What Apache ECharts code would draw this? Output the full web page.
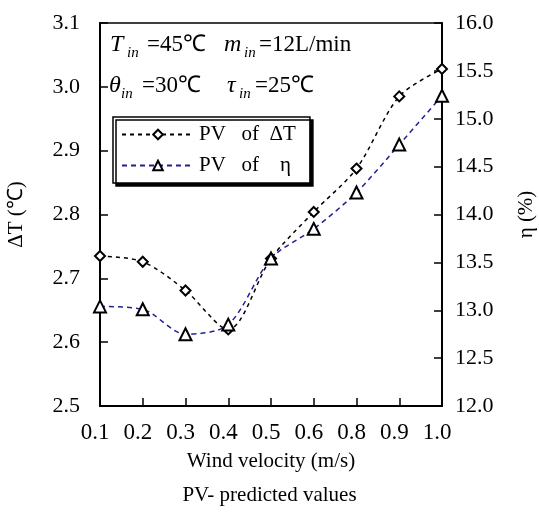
<!DOCTYPE html>
<html><head><meta charset="utf-8">
<script src="https://cdn.jsdelivr.net/npm/echarts@6/dist/echarts.min.js"></script>
<style>html,body{margin:0;padding:0;background:#fff}#c{width:539px;height:512px}</style>
</head><body><div id="c"></div>
<script>
var categories = ['0.1','0.2','0.3','0.4','0.5','0.6','0.8','0.9','1.0'];
var deltaT = [2.735, 2.726, 2.681, 2.620, 2.731, 2.804, 2.872, 2.985, 3.028];
var eta = [13.04, 13.01, 12.75, 12.85, 13.54, 13.85, 14.23, 14.73, 15.24];
var leftTicks = {min: 2.5, max: 3.1, interval: 0.1};
var rightTicks = {min: 12.0, max: 16.0, interval: 0.5};
var seriesNames = ['PV   of  ΔT', 'PV   of    η'];

var F = 'Liberation Serif';
var chart = echarts.init(document.getElementById('c'), null, {renderer: 'canvas'});

function txt(x, y, s, size, italic) {
  return {type: 'text', x: x, y: y, silent: true,
    style: {text: s, fontFamily: F, fontSize: size, fontStyle: italic ? 'italic' : 'normal',
      fill: '#000', verticalAlign: 'middle', align: 'left'}};
}

chart.setOption({
  animation: false,
  backgroundColor: '#fff',
  grid: {left: 100, right: 97, top: 23, bottom: 106, outerBoundsMode: 'none', containLabel: false,
    show: true, borderColor: '#000', borderWidth: 1.5, backgroundColor: 'transparent'},
  legend: {
    left: 113, top: 117, orient: 'vertical',
    padding: [7, 14, 7, 8], itemGap: 10,
    itemWidth: 72, itemHeight: 12,
    backgroundColor: '#fff', borderColor: '#000', borderWidth: 1.5,
    shadowColor: '#000', shadowBlur: 0, shadowOffsetX: 3, shadowOffsetY: 3,
    textStyle: {fontFamily: F, fontSize: 21, color: '#000'},
    data: seriesNames
  },
  xAxis: {
    type: 'category', data: categories, boundaryGap: false,
    name: 'Wind velocity (m/s)', nameLocation: 'middle', nameGap: 45,
    nameTextStyle: {fontFamily: F, fontSize: 21, color: '#000'},
    axisLine: {lineStyle: {color: '#000', width: 2}},
    axisTick: {inside: true, length: 8, lineStyle: {color: '#000', width: 1.5}, alignWithLabel: true},
    axisLabel: {interval: 0, fontFamily: F, fontSize: 23, color: '#000', margin: 15, padding: [0, 10, 0, 0]},
    splitLine: {show: false}
  },
  yAxis: [{
    type: 'value', min: leftTicks.min, max: leftTicks.max, interval: leftTicks.interval,
    name: 'ΔT (℃)', nameLocation: 'middle', nameGap: 73, nameRotate: 90,
    nameTextStyle: {fontFamily: F, fontSize: 21, color: '#000'},
    axisLine: {show: true, lineStyle: {color: '#000', width: 2}},
    axisTick: {show: true, inside: true, length: 8, lineStyle: {color: '#000', width: 1.5}},
    axisLabel: {fontFamily: F, fontSize: 22, color: '#000', margin: 20, formatter: function (v) { return v.toFixed(1); }},
    splitLine: {show: false}
  }, {
    type: 'value', position: 'right', min: rightTicks.min, max: rightTicks.max, interval: rightTicks.interval,
    name: 'η (%)', nameLocation: 'middle', nameGap: 74, nameRotate: 90,
    nameTextStyle: {fontFamily: F, fontSize: 21, color: '#000'},
    axisLine: {show: true, lineStyle: {color: '#000', width: 2}},
    axisTick: {show: true, inside: true, length: 8, lineStyle: {color: '#000', width: 1.5}},
    axisLabel: {fontFamily: F, fontSize: 22, color: '#000', margin: 13, formatter: function (v) { return v.toFixed(1); }},
    splitLine: {show: false}
  }],
  series: [{
    name: seriesNames[0], type: 'line', yAxisIndex: 0, data: deltaT, smooth: 0.3,
    symbol: 'emptyDiamond', symbolSize: 10,
    lineStyle: {color: '#000', width: 1.5, type: [4, 4]},
    itemStyle: {color: '#000', borderColor: '#000', borderWidth: 1.3}
  }, {
    name: seriesNames[1], type: 'line', yAxisIndex: 1, data: eta, smooth: 0.3,
    symbol: 'emptyTriangle', symbolSize: 12,
    lineStyle: {color: '#22228f', width: 1.5, type: [5, 4]},
    itemStyle: {color: '#000', borderColor: '#000', borderWidth: 1.3}
  }],
  graphic: [
    txt(110, 45, 'T', 24, true), txt(127, 53, 'in', 15, true), txt(147, 45, '=45℃', 23, false),
    txt(224, 45, 'm', 24, true), txt(244, 53, 'in', 15, true), txt(259, 45, '=12L/min', 23, false),
    txt(109, 86, 'θ', 24, true), txt(121, 94, 'in', 15, true), txt(142, 86, '=30℃', 23, false),
    txt(227, 86, 'τ', 24, true), txt(239, 94, 'in', 15, true), txt(255, 86, '=25℃', 23, false),
    {type: 'text', left: 'center', top: 485, silent: true,
     style: {text: 'PV- predicted values', fontFamily: F, fontSize: 21, fill: '#000'}}
  ]
});
</script></body></html>
